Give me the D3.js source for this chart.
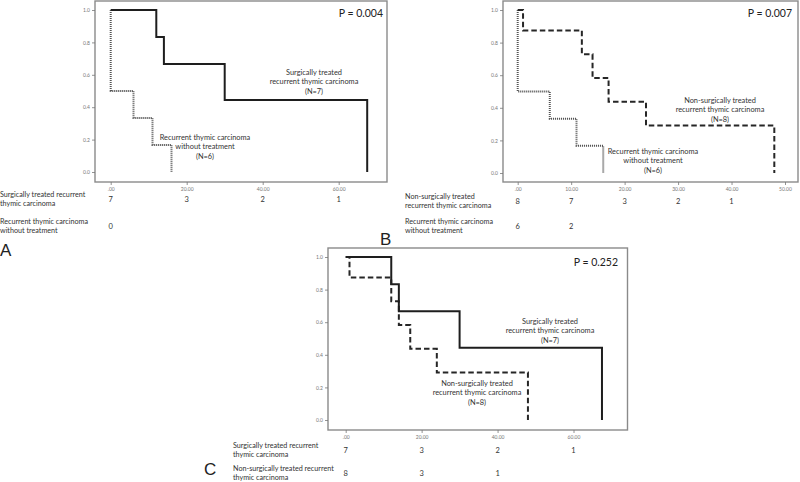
<!DOCTYPE html>
<html><head><meta charset="utf-8">
<script src="https://cdn.jsdelivr.net/npm/d3@7"></script>
<style>body{margin:0;background:#fff}svg{display:block}</style>
</head><body>
<svg id="c" width="800" height="482"></svg>
<script>
// ---- data ----
const surgTime = [0, 12, 14, 30, 67.5];
const surgSurv = [1, 0.833, 0.667, 0.444, 0];
const nonSurgTime = [0, 1, 12, 14, 17, 24, 48];
const nonSurgSurv = [1, 0.875, 0.729, 0.583, 0.4375, 0.292, 0];
const untreatTime = [0, 0, 6, 11, 16];
const untreatSurv = [1, 0.5, 0.333, 0.167, 0];

const yTicks = [0, 0.2, 0.4, 0.6, 0.8, 1.0];
const xTicksA = [0, 20, 40, 60];
const xTicksB = [0, 10, 20, 30, 40, 50];
const xTicksC = [0, 20, 40, 60];

const riskA_surg = [7, 3, 2, 1];
const riskA_untr = [0];
const riskB_non = [8, 7, 3, 2, 1];
const riskB_untr = [6, 2];
const riskC_surg = [7, 3, 2, 1];
const riskC_non = [8, 3, 1];

const pA = "P = 0.004", pB = "P = 0.007", pC = "P = 0.252";

// ---- drawing ----
const svg = d3.select("#c");
const FONT = "Lato, 'Open Sans', sans-serif";
const styles = {
  solid: {stroke: "#1e1e1e", width: 2, dash: null},
  dashed: {stroke: "#262626", width: 2, dash: "5.5,3"},
  dotted: {stroke: "#555", width: 2, dash: "1.1,0.9"}
};

function panel(cfg) {
  const g = svg.append("g");
  const x = d3.scaleLinear().domain(cfg.xDom).range(cfg.xRange);
  const y = d3.scaleLinear().domain([0, 1]).range(cfg.yRange);
  // frame
  g.append("rect").attr("x", cfg.frame[0]).attr("y", cfg.frame[1])
    .attr("width", cfg.frame[2] - cfg.frame[0]).attr("height", cfg.frame[3] - cfg.frame[1])
    .attr("fill", "none").attr("stroke", "#8a8a8a").attr("stroke-width", 1.4);
  // axes
  const xa = g.append("g").attr("transform", `translate(0,${cfg.frame[3]})`)
    .call(d3.axisBottom(x).tickValues(cfg.xTicks).tickSize(3).tickPadding(2)
      .tickFormat(d => d === 0 ? ".00" : d.toFixed(2)));
  const ya = g.append("g").attr("transform", `translate(${cfg.frame[0]},0)`)
    .call(d3.axisLeft(y).tickValues(yTicks).tickSize(3).tickPadding(2)
      .tickFormat(d => d.toFixed(1)));
  [xa, ya].forEach(a => {
    a.select(".domain").remove();
    a.selectAll("line").attr("stroke", "#777").attr("stroke-width", 0.8);
    a.selectAll("text").attr("fill", "#777").style("font-size", "5px").style("font-family", FONT);
  });
  // curves
  const line = d3.line().x(d => x(d[0])).y(d => y(d[1])).curve(d3.curveStepAfter);
  cfg.curves.forEach(c => {
    const s = styles[c.style];
    const pts = c.t.map((t, i) => [t, c.s[i]]);
    g.append("path").attr("d", line(pts)).attr("fill", "none")
      .attr("stroke", s.stroke).attr("stroke-width", s.width)
      .attr("stroke-dasharray", s.dash).attr("stroke-linejoin", "miter");
  });
  // P value
  g.append("text").attr("x", cfg.p[1]).attr("y", cfg.p[2]).attr("text-anchor", "end")
    .style("font-family", FONT).style("font-size", "10.5px").attr("fill", "#222").text(cfg.p[0]);
  // curve labels
  cfg.labels.forEach(l => {
    const t = g.append("text").attr("text-anchor", "middle").style("font-family", FONT)
      .style("font-size", "7.4px").attr("fill", "#333");
    l.lines.forEach((s, i) => t.append("tspan").attr("x", l.x).attr("y", l.y + i * 9.4).text(s));
  });
  // risk table
  cfg.table.forEach(r => {
    const t = g.append("text").style("font-family", FONT).style("font-size", "7.2px").attr("fill", "#333");
    r.lines.forEach((s, i) => t.append("tspan").attr("x", r.x).attr("y", r.y + i * 9).text(s));
    r.vals.forEach((v, i) => {
      g.append("text").attr("x", x(cfg.xTicks[i])).attr("y", r.y + 4.5)
        .attr("text-anchor", "middle").style("font-family", FONT).style("font-size", "7.5px")
        .attr("fill", "#333").text(v);
    });
  });
  // panel letter
  g.append("text").attr("x", cfg.letter[1]).attr("y", cfg.letter[2])
    .style("font-family", "'Liberation Sans', Arial, sans-serif").style("font-size", "17px")
    .attr("fill", "#222").text(cfg.letter[0]);
}

panel({
  xDom: [0, 60], xRange: [110.7, 338.7], yRange: [172, 10],
  frame: [95, 1, 387, 182], xTicks: xTicksA,
  curves: [
    {t: untreatTime, s: untreatSurv, style: "dotted"},
    {t: surgTime, s: surgSurv, style: "solid"}
  ],
  p: [pA, 383, 17],
  labels: [
    {x: 314, y: 75, lines: ["Surgically treated", "recurrent thymic carcinoma", "(N=7)"]},
    {x: 205, y: 140, lines: ["Recurrent thymic carcinoma", "without treatment", "(N=6)"]}
  ],
  table: [
    {x: 0, y: 197, lines: ["Surgically treated recurrent", "thymic carcinoma"], vals: riskA_surg},
    {x: 0, y: 224, lines: ["Recurrent thymic carcinoma", "without treatment"], vals: riskA_untr}
  ],
  letter: ["A", 0, 256]
});

panel({
  xDom: [0, 50], xRange: [517.7, 785], yRange: [173, 10],
  frame: [503, 1, 798, 182], xTicks: xTicksB,
  curves: [
    {t: untreatTime, s: untreatSurv, style: "dotted"},
    {t: nonSurgTime, s: nonSurgSurv, style: "dashed"}
  ],
  p: [pB, 792, 17],
  labels: [
    {x: 720, y: 103, lines: ["Non-surgically treated", "recurrent thymic carcinoma", "(N=8)"]},
    {x: 653, y: 154, lines: ["Recurrent thymic carcinoma", "without treatment", "(N=6)"]}
  ],
  table: [
    {x: 405, y: 199, lines: ["Non-surgically treated", "recurrent thymic carcinoma"], vals: riskB_non},
    {x: 405, y: 224, lines: ["Recurrent thymic carcinoma", "without treatment"], vals: riskB_untr}
  ],
  letter: ["B", 380, 245]
});

panel({
  xDom: [0, 60], xRange: [345.7, 573.5], yRange: [420, 257],
  frame: [328, 248, 627.5, 430], xTicks: xTicksC,
  curves: [
    {t: nonSurgTime, s: nonSurgSurv, style: "dashed"},
    {t: surgTime, s: surgSurv, style: "solid"}
  ],
  p: [pC, 618, 266],
  labels: [
    {x: 550, y: 324, lines: ["Surgically treated", "recurrent thymic carcinoma", "(N=7)"]},
    {x: 477, y: 386, lines: ["Non-surgically treated", "recurrent thymic carcinoma", "(N=8)"]}
  ],
  table: [
    {x: 233, y: 448, lines: ["Surgically treated recurrent", "thymic carcinoma"], vals: riskC_surg},
    {x: 233, y: 471, lines: ["Non-surgically treated recurrent", "thymic carcinoma"], vals: riskC_non}
  ],
  letter: ["C", 204, 475]
});
</script>
</body></html>
